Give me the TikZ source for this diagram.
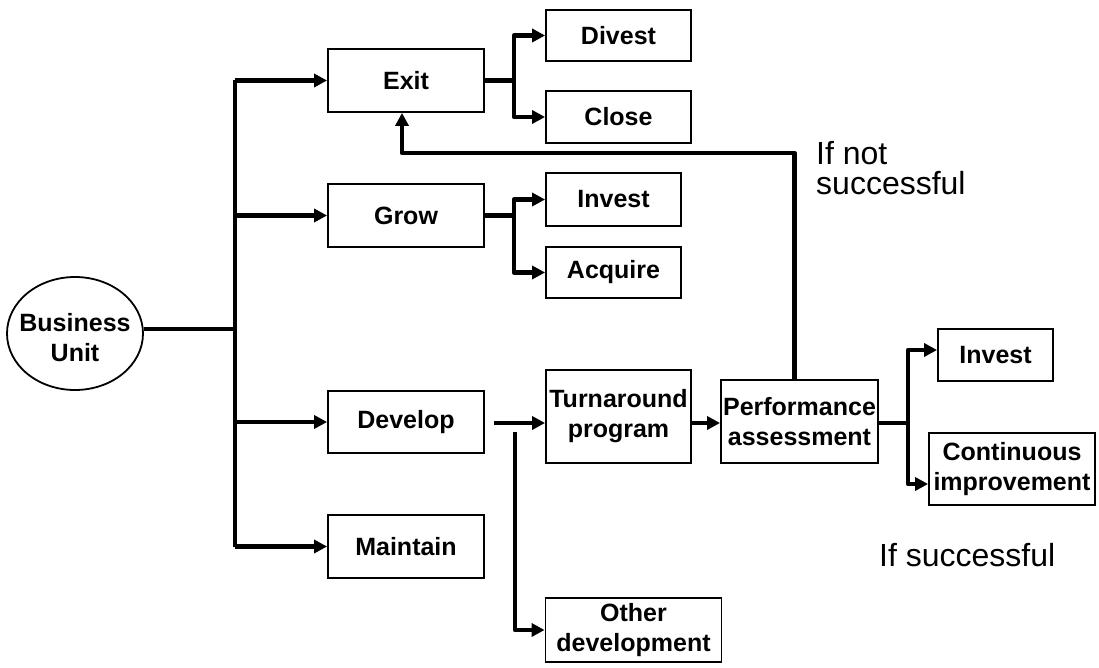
\documentclass[tikz,border=0pt]{standalone}
\usepackage{fontspec}
\setmainfont{Liberation Sans}
\usetikzlibrary{arrows.meta,shapes.geometric}

\tikzset{
  box/.style={draw, line width=1.8pt, inner sep=0pt, align=center,
    font=\bfseries\fontsize{25}{30}\selectfont},
  oval/.style={draw, ellipse, line width=1.8pt, inner sep=0pt},
  label text/.style={inner sep=0pt, align=center,
    font=\bfseries\fontsize{25}{30}\selectfont},
  conn/.style={line width=4.5pt, line join=round},
  arr/.style={conn, -{Triangle[length=13pt,width=13pt]}},
  note/.style={inner sep=0pt, align=left, font=\fontsize{32}{30}\selectfont},
}

\begin{document}
\begin{tikzpicture}[x=1pt, y=-1pt]
  \useasboundingbox (0,0) rectangle (1099,668);

  % source unit
  \node[oval, minimum width=136pt, minimum height=113pt] (bu) at (75,333.5) {};
  \node[label text] (butext) at (75,338) {Business\\Unit};

  % first level choices
  \node[box, minimum width=156pt, minimum height=63pt] (exit)  at (406,80.5)  {Exit};
  \node[box, minimum width=156pt, minimum height=63pt] (grow)  at (406,215.5) {Grow};
  \node[box, minimum width=156pt, minimum height=62pt] (dev)   at (406,422)   {Develop};
  \node[box, minimum width=156pt, minimum height=63pt] (maint) at (406,546.5) {Maintain};

  % second level choices
  \node[box, minimum width=145pt, minimum height=51pt] (divest)  at (618.5,35.5)  {Divest};
  \node[box, minimum width=145pt, minimum height=52pt] (close)   at (618.5,117)   {Close};
  \node[box, minimum width=135pt, minimum height=53pt] (invest)  at (613.5,199.5) {Invest};
  \node[box, minimum width=135pt, minimum height=51pt] (acquire) at (613.5,272.5) {Acquire};
  \node[box, minimum width=145pt, minimum height=93pt] (turn)    at (618.5,416.5) {Turnaround\\program};
  \node[box, minimum width=176pt, minimum height=64pt] (other)   at (633.5,630)   {Other\\development};

  % assessment and outcomes
  \node[box, minimum width=157pt, minimum height=83pt] (perf)  at (799.5,421.5) {Performance\\assessment};
  \node[box, minimum width=115pt, minimum height=52pt] (inv2)  at (995.5,355)   {Invest};
  \node[box, minimum width=166pt, minimum height=72pt] (cont)  at (1012,469)    {Continuous\\improvement};

  % annotations
  \node[note, anchor=north west] (notok) at (816,141) {If not\\successful};
  \node[note, anchor=base west]  (ok)    at (879,566) {If successful};

  % helper coordinates
  \coordinate (trunk) at (235,0);
  \coordinate (devgo) at (494,423);
  \coordinate (othgo) at (515,432);
  \coordinate (fb)    at (0,153);

  % trunk from the business unit
  \draw[conn] (bu.east |- 0,329) -- (trunk |- 0,329);
  \draw[conn] (trunk |- exit) -- (trunk |- maint);
  \draw[arr] (trunk |- exit)  -- (exit.west);
  \draw[arr] (trunk |- grow)  -- (grow.west);
  \draw[arr] (trunk |- dev)   -- (dev.west);
  \draw[arr] (trunk |- maint) -- (maint.west);

  % exit branches
  \draw[arr] (exit.east) -- ++(29,0) |- (divest.west);
  \draw[arr] (exit.east) -- ++(29,0) |- (close.west);

  % grow branches
  \draw[arr] (grow.east) -- ++(29,0) |- (invest.west);
  \draw[arr] (grow.east) -- ++(29,0) |- (acquire.west);

  % develop path
  \draw[arr] (devgo) -- (turn.west |- devgo);
  \draw[arr] (othgo) |- (other.west);
  \draw[arr] (turn.east |- devgo) -- (perf.west |- devgo);

  % assessment outcomes
  \draw[arr] (perf.east |- devgo) -- ++(29,0) |- ([yshift=5pt]inv2.west);
  \draw[arr] (perf.east |- devgo) -- ++(29,0) |- ([yshift=-15pt]cont.west);

  % feedback to exit
  \draw[arr] ([xshift=-5pt]perf.north) -- ([xshift=-5pt]perf.north |- fb) -| ([xshift=-4pt]exit.south);
\end{tikzpicture}
\end{document}
